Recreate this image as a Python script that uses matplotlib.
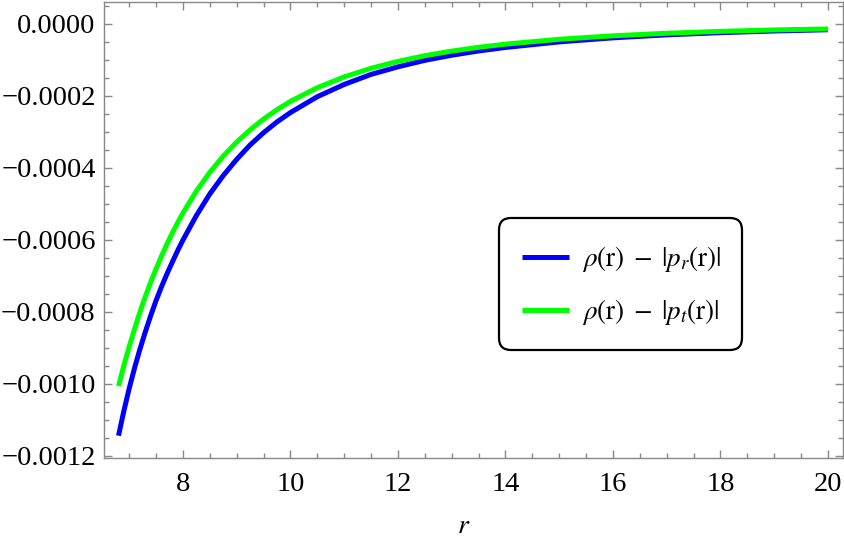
import matplotlib
matplotlib.use("Agg")
import matplotlib.pyplot as plt
from matplotlib.ticker import MultipleLocator, FixedLocator
from matplotlib.patches import FancyBboxPatch
from matplotlib.transforms import IdentityTransform

# ---- data ----
r_vals = [6.8, 6.9, 7.0, 7.1, 7.2, 7.3, 7.4, 7.5, 7.6, 7.7, 7.8, 7.9, 8.0,
          8.25, 8.5, 8.75, 9.0, 9.25, 9.5, 9.75, 10.0, 10.5, 11.0, 11.5, 12.0,
          12.5, 13.0, 13.5, 14.0, 15.0, 16.0, 17.0, 18.0, 19.0, 20.0]
rho_minus_pr = [-1.144e-3, -1.075e-3, -1.012e-3, -0.955e-3, -0.903e-3, -0.855e-3,
                -0.810e-3, -0.768e-3, -0.730e-3, -0.695e-3, -0.662e-3, -0.630e-3,
                -0.600e-3, -0.532e-3, -0.472e-3, -0.421e-3, -0.376e-3, -0.336e-3,
                -0.302e-3, -0.272e-3, -0.246e-3, -0.202e-3, -0.168e-3, -0.140e-3,
                -0.119e-3, -0.101e-3, -0.0868e-3, -0.0750e-3, -0.0652e-3,
                -0.0497e-3, -0.0385e-3, -0.0302e-3, -0.0241e-3, -0.0195e-3,
                -0.0160e-3]
rho_minus_pt = [-1.006e-3, -0.949e-3, -0.896e-3, -0.847e-3, -0.800e-3, -0.757e-3,
                -0.717e-3, -0.680e-3, -0.645e-3, -0.612e-3, -0.581e-3, -0.552e-3,
                -0.525e-3, -0.464e-3, -0.412e-3, -0.367e-3, -0.328e-3, -0.294e-3,
                -0.264e-3, -0.238e-3, -0.215e-3, -0.177e-3, -0.147e-3, -0.123e-3,
                -0.104e-3, -0.0881e-3, -0.0753e-3, -0.0648e-3, -0.0560e-3,
                -0.0425e-3, -0.0328e-3, -0.0258e-3, -0.0205e-3, -0.0165e-3,
                -0.0138e-3]

xticks = [8, 10, 12, 14, 16, 18, 20]
xtick_labels = ["8", "10", "12", "14", "16", "18", "20"]
yticks = [0.0, -0.0002, -0.0004, -0.0006, -0.0008, -0.0010, -0.0012]
ytick_labels = ["0.0000", "\u22120.0002", "\u22120.0004", "\u22120.0006",
                "\u22120.0008", "\u22120.0010", "\u22120.0012"]
legend_labels = [r"$\rho(\mathrm{r})\;-\;|p_r(\mathrm{r})|$",
                 r"$\rho(\mathrm{r})\;-\;|p_t(\mathrm{r})|$"]
xlabel = r"$r$"

plt.rcParams["mathtext.fontset"] = "stix"
plt.rcParams["font.family"] = ["Liberation Serif", "DejaVu Serif"]

W, H = 845, 545
fig = plt.figure(figsize=(W / 100, H / 100), dpi=100)
ax = fig.add_axes([104 / W, 1 - 458 / H, (843 - 104) / W, (458 - 2) / H])

ax.plot(r_vals, rho_minus_pr, color="#0000ff", lw=3.6, label=legend_labels[0],
        solid_capstyle="butt", solid_joinstyle="round")
ax.plot(r_vals, rho_minus_pt, color="#00ff00", lw=3.6, label=legend_labels[1],
        solid_capstyle="butt", solid_joinstyle="round")

ax.set_xlim(6.53, 20.28)
ax.set_ylim(-0.001206, 0.0000611)

frame_col = "#888888"
for s in ax.spines.values():
    s.set_color(frame_col)
    s.set_linewidth(1.0)

ax.xaxis.set_major_locator(FixedLocator(xticks))
ax.set_xticklabels(xtick_labels)
ax.xaxis.set_minor_locator(MultipleLocator(0.5))
ax.yaxis.set_major_locator(FixedLocator(yticks))
ax.set_yticklabels(ytick_labels)
ax.yaxis.set_minor_locator(MultipleLocator(0.00005))

ax.tick_params(which="both", direction="in", top=True, right=True,
               color=frame_col, width=1.0, labelsize=20.5)
ax.tick_params(which="major", length=6)
ax.tick_params(which="minor", length=3.5)
ax.tick_params(axis="x", which="major", pad=10)
ax.tick_params(axis="y", which="major", pad=6)

ax.set_xlabel(xlabel, fontsize=20, labelpad=15)
ax.xaxis.set_label_coords((464 - 104) / (843 - 104), -0.123)

# legend box (rounded, black edge) in pixel coordinates
box = FancyBboxPatch((499, H - 350), 243, 132,
                     boxstyle="round,pad=0,rounding_size=12",
                     transform=IdentityTransform(), facecolor="white",
                     edgecolor="black", linewidth=1.6, zorder=5, clip_on=False)
ax.add_artist(box)

leg = ax.legend(loc="upper left", bbox_to_anchor=(522 / W, 1 - 244 / H),
                bbox_transform=fig.transFigure,
                fontsize=19.5, frameon=False, handlelength=1.75,
                handletextpad=0.45, labelspacing=0.85, borderpad=0.0,
                borderaxespad=0.0)
leg.set_zorder(7)

fig.savefig("out.png", dpi=100)
